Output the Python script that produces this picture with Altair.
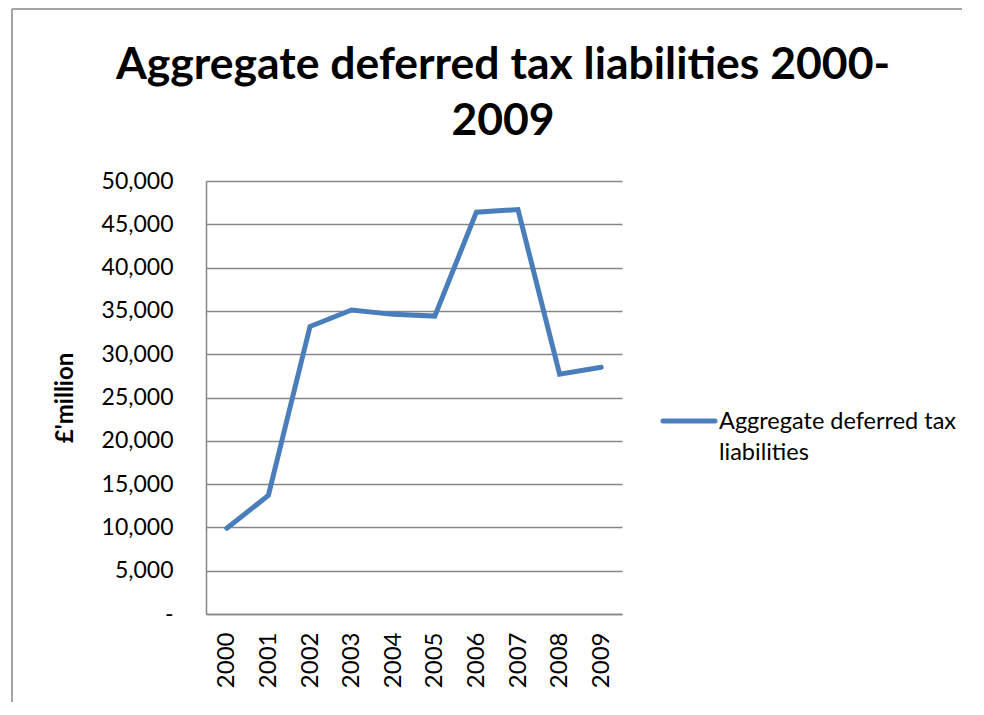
import altair as alt
import pandas as pd

years = ["2000", "2001", "2002", "2003", "2004", "2005", "2006", "2007", "2008", "2009"]
liabilities = [9900, 13700, 33200, 35100, 34600, 34400, 46400, 46700, 27700, 28500]
series_name = "Aggregate deferred tax liabilities"
y_ticks = [0, 5000, 10000, 15000, 20000, 25000, 30000, 35000, 40000, 45000, 50000]
title_text = "Aggregate deferred tax liabilities 2000-\n2009"

BLUE = "#4a7ebb"
GRID = "#868686"
FONT = "Lato"

df = pd.DataFrame({"year": years, "value": liabilities})
legend_df = pd.DataFrame({"label": ["Aggregate deferred tax\nliabilities"], "series": [series_name]})
title_df = pd.DataFrame({"title": [title_text]})

W, H = 416, 433

border_top = alt.Chart(legend_df).mark_rule(color=GRID, strokeWidth=1.5).encode(
    x=alt.value(-194), x2=alt.value(W + 400), y=alt.value(-172)
)
border_left = alt.Chart(legend_df).mark_rule(color=GRID, strokeWidth=1.5).encode(
    x=alt.value(-194), y=alt.value(-172), y2=alt.value(H + 200)
)

title = alt.Chart(title_df).mark_text(
    align="center", baseline="alphabetic", fontSize=44.5, font=FONT, fontWeight="bold",
    lineBreak="\n", lineHeight=56, color="#000000"
).encode(x=alt.value(297), y=alt.value(-102), text="title:N")

line = alt.Chart(df).mark_line(color=BLUE, strokeWidth=5, strokeCap="round").encode(
    x=alt.X("year:O", scale=alt.Scale(type="point", padding=0.5),
            axis=alt.Axis(title=None, labelAngle=-90, labelPadding=18, ticks=False,
                          domainColor=GRID, domainWidth=1.5, labelFontSize=24,
                          labelFont=FONT, labelColor="#000000", grid=False)),
    y=alt.Y("value:Q", scale=alt.Scale(domain=[0, 50000], nice=False),
            axis=alt.Axis(title="£'million", values=y_ticks,
                          labelExpr="datum.value == 0 ? '-' : format(datum.value, ',')",
                          ticks=False, labelPadding=33, labelFontSize=23, labelFont=FONT,
                          labelColor="#000000", titleFont=FONT, titleFontSize=24,
                          titleFontWeight="bold", titleColor="#000000", titlePadding=24,
                          domainColor=GRID, domainWidth=1.5, gridColor=GRID,
                          gridWidth=1.5)),
)

legend_rule = alt.Chart(legend_df).mark_rule(color=BLUE, strokeWidth=5, strokeCap="round").encode(
    x=alt.value(457), x2=alt.value(509), y=alt.value(240)
)
legend_text = alt.Chart(legend_df).mark_text(
    align="left", baseline="middle", fontSize=23.5, font=FONT, lineBreak="\n",
    lineHeight=31, color="#000000"
).encode(x=alt.value(513), y=alt.value(241), text="label:N")

chart = alt.layer(border_top, border_left, title, line, legend_rule, legend_text).properties(
    width=W, height=H,
    autosize=alt.AutoSizeParams(type="none"),
    padding={"left": 198, "top": 173, "right": 340, "bottom": 88},
).configure_view(stroke=None)

chart.save("out.html", embed_options={"renderer": "svg", "actions": False})
